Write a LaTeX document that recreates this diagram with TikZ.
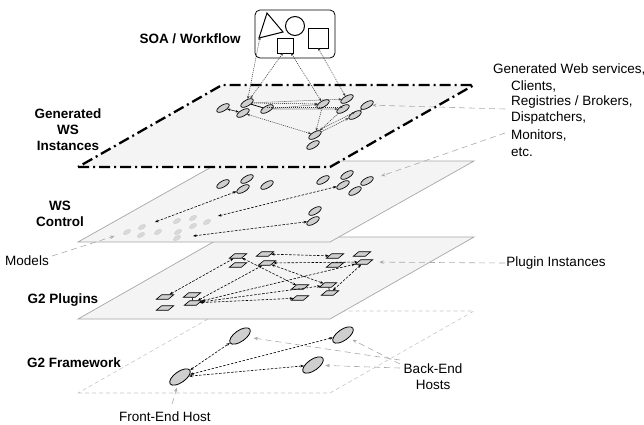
\documentclass[tikz,border=0pt]{standalone}
\usepackage{fontspec}
\setmainfont{Liberation Sans}
\usetikzlibrary{arrows.meta,shapes.geometric}
\definecolor{planefill}{HTML}{F4F4F4}
\definecolor{nodefill}{HTML}{CFCFCF}
\definecolor{annotc}{HTML}{ABABAB}
\begin{document}
\begin{tikzpicture}[x=1pt,y=-1pt,
  lbl/.style={font=\fontsize{13.5}{16}\selectfont, inner sep=0},
  blbl/.style={font=\fontsize{13.5}{16}\selectfont\bfseries, inner sep=0, align=center},
  ws/.style={ellipse, draw, fill=nodefill, line width=0.7pt, minimum width=14pt, minimum height=6pt, inner sep=0, rotate=30},
  model/.style={ellipse, fill=gray!30, draw=gray!40, line width=0.4pt, minimum width=8pt, minimum height=4pt, inner sep=0, rotate=30},
  host/.style={ellipse, draw, fill=nodefill, line width=0.8pt, minimum width=24pt, minimum height=11pt, inner sep=0, rotate=35},
  plug/.style={rectangle, draw, fill=nodefill, line width=0.6pt, minimum width=12pt, minimum height=4.5pt, inner sep=0, xslant=1.2},
  dotc/.style={draw=black!80, line width=0.55pt, dash pattern=on 1pt off 1pt, {Stealth[length=3pt,width=2.4pt]}-{Stealth[length=3pt,width=2.4pt]}},
  dotone/.style={draw=black!80, line width=0.55pt, dash pattern=on 1pt off 1pt, -{Stealth[length=3pt,width=2.4pt]}},
  dashc/.style={draw=black, line width=0.6pt, dash pattern=on 2.5pt off 1.5pt, {Stealth[length=3.5pt,width=2.6pt]}-{Stealth[length=3.5pt,width=2.6pt]}},
  annot/.style={draw=annotc, line width=0.6pt, dash pattern=on 6pt off 4pt, -{Stealth[length=4.5pt,width=3.5pt]}},
  solidlink/.style={draw, line width=0.8pt}
]
\useasboundingbox (0,0) rectangle (644,424);

% ---------- planes ----------
\draw[draw=gray!45, line width=0.6pt, dash pattern=on 4pt off 3pt] (78,393) -- (330,393) -- (474,311) -- (222,311) -- cycle;
\draw[draw=gray!70, fill=planefill, line width=0.7pt] (78,319) -- (330,319) -- (474,237) -- (222,237) -- cycle;
\draw[draw=gray!70, fill=planefill, line width=0.7pt] (78,242) -- (330,242) -- (474,161) -- (222,161) -- cycle;
\draw[fill=planefill, line width=2.3pt, dash pattern=on 11pt off 4pt on 2pt off 4pt] (78,167) -- (330,167) -- (474,85) -- (222,85) -- cycle;

% ---------- SOA box ----------
\node[draw, rounded corners=5pt, line width=0.8pt, minimum width=80pt, minimum height=48pt, inner sep=0] (soa) at (295,34) {};
\draw[line width=1pt] (259,38) -- (267,13) -- (283,32) -- cycle;
\coordinate (tri) at (260,37);
\node[circle, draw, line width=1pt, minimum size=19pt, inner sep=0] (circ) at (295,26) {};
\node[draw, line width=1pt, minimum width=16pt, minimum height=15pt, inner sep=0] (sq1) at (285,45.5) {};
\node[draw, line width=1pt, minimum size=20pt, inner sep=0] (sq2) at (318,38) {};
\coordinate (sq1a) at (283,53);
\coordinate (sq1b) at (291,53);
\coordinate (sq2a) at (318,48);

% ---------- generated WS instances ----------
\node[ws] (e1) at (223,108) {};
\node[ws] (e2) at (247,103) {};
\node[ws] (e3) at (243,113) {};
\node[ws] (e4) at (267,109) {};
\node[ws] (e5) at (323,104) {};
\node[ws] (e6) at (347,99) {};
\node[ws] (e7) at (343,109) {};
\node[ws] (e8) at (355,115) {};
\node[ws] (e9) at (367,105) {};
\node[ws] (e10) at (315,135) {};
\node[ws] (e11) at (313,145) {};

\draw[dotc] (tri) -- (e2);
\draw[dotc] (sq1a) -- (e2);
\draw[dotc] (sq1b) -- (e5);
\draw[dotc] (sq2a) -- (e6);

\draw[line width=0.5pt, {Stealth[length=3pt,width=2.4pt]}-{Stealth[length=3pt,width=2.4pt]}] (e1) -- (e3);
\draw[solidlink] (e2) -- (e4);
\draw[solidlink] (e8) -- (e9);
\draw[dotone] (e2) -- (e6);
\draw[dotone] (e2) -- (e5);
\draw[dotone] (e4) -- (e5);
\draw[dotone] (e4) -- (e7);
\draw[dotone] ([yshift=2pt]e4.center) -- ([yshift=2pt]e7.center);
\draw[dotc] (e3) -- (e10);
\draw[dotone] (e5) -- (e10);
\draw[dotone] (e7) -- (e10);
\draw[dotone] (e10) -- (e8);
\draw[dotone] ([yshift=3pt]e10.center) -- ([yshift=3pt]e8.center);

% ---------- WS control ----------
\node[ws] (c1) at (223,184) {};
\node[ws] (c2) at (247,179) {};
\node[ws] (c3) at (243,189) {};
\node[ws] (c4) at (267,185) {};
\node[ws] (c5) at (323,180) {};
\node[ws] (c6) at (347,175) {};
\node[ws] (c7) at (343,185) {};
\node[ws] (c8) at (355,191) {};
\node[ws] (c9) at (367,181) {};
\node[ws] (c10) at (315,211) {};
\node[ws] (c11) at (313,221) {};

\node[model] (m1) at (127,232) {};
\node[model] (m2) at (142,227) {};
\node[model] (m3) at (141,235) {};
\node[model] (m4) at (158,232) {};
\node[model] (m5) at (177,221) {};
\node[model] (m6) at (178,232) {};
\node[model] (m7) at (177,238) {};
\node[model] (m8) at (193,218) {};
\node[model] (m9) at (193,226) {};
\node[model] (m10) at (207,222) {};

\coordinate (k1) at (155,222);
\coordinate (k2) at (218,216);
\coordinate (k3) at (193,236);
\draw[dashc] (k1) -- (c3);
\draw[dashc] (k2) -- (c7);
\draw[dashc] (k3) -- (c11);

% ---------- G2 plugins ----------
\node[plug] (p1) at (238,256) {};
\node[plug] (p2) at (265,254) {};
\node[plug] (p3) at (238,265) {};
\node[plug] (p4) at (267,263) {};
\node[plug] (p5) at (335,256) {};
\node[plug] (p6) at (362,254) {};
\node[plug] (p7) at (335,265) {};
\node[plug] (p8) at (364,262) {};
\node[plug] (p9) at (300,287) {};
\node[plug] (p10) at (328,285) {};
\node[plug] (p11) at (300,298) {};
\node[plug] (p12) at (330,293) {};
\node[plug] (p13) at (165,297) {};
\node[plug] (p14) at (192,295) {};
\node[plug] (p15) at (165,308) {};
\node[plug] (p16) at (193,303) {};

\draw[line width=0.6pt] (p14) -- (p16);
\draw[line width=0.6pt] (p10) -- (p12);
\draw[dashc] (p13) -- (p1);
\draw[dashc] (p16) -- (p4);
\draw[dashc] (p16) -- (p8);
\draw[dashc] (p16) -- (p10);
\draw[dashc] (p16) -- (p11);
\draw[dashc] (p2) -- (p5);
\draw[dashc] (p4) -- (p8);
\draw[dashc] (p1) -- (p9);
\draw[dashc] (p4) -- (p10);
\draw[dashc] (p8) -- (p12);

% ---------- G2 framework ----------
\node[host] (f1) at (180,377) {};
\node[host] (f2) at (240,336) {};
\node[host] (f3) at (343,335) {};
\node[host] (f4) at (313,365) {};
\draw[dashc] (f1) -- (f2);
\draw[dashc] (f1) -- (f3);
\draw[dashc] (f1) -- (f4);

% ---------- labels ----------
\node[blbl] (tsoa) at (190,39) {SOA / Workflow};
\node[blbl] (tgen) at (68,130) {Generated\\WS\\Instances};
\node[blbl] (tctl) at (60,214) {WS\\Control};
\node[lbl] (tmod) at (27,261) {Models};
\node[blbl] (tplg) at (63,300) {G2 Plugins};
\node[blbl] (tfw) at (74,363) {G2 Framework};
\node[lbl] (tfe) at (165,417) {Front-End Host};
\node[lbl, align=center] (tbe) at (433,377) {Back-End\\Hosts};
\node[lbl] (tpi) at (556,263) {Plugin Instances};
\node[lbl, anchor=west] (g1) at (493,69) {Generated Web services,};
\node[lbl, anchor=west] (g2) at (511,86) {Clients,};
\node[lbl, anchor=west] (g3) at (511,102) {Registries / Brokers,};
\node[lbl, anchor=west] (g4) at (511,118) {Dispatchers,};
\node[lbl, anchor=west] (g5) at (511,135) {Monitors,};
\node[lbl, anchor=west] (g6) at (511,152) {etc.};

% ---------- annotation arrows ----------
\coordinate (a1) at (505,109);
\coordinate (a2) at (505,133);
\coordinate (a3) at (52,256);
\coordinate (a4) at (505,263);
\coordinate (b1) at (400,360);
\coordinate (b2) at (400,364);
\coordinate (b3) at (400,368);
\coordinate (fe) at (172,404);
\draw[annot] (a1) -- (e9);
\draw[annot, shorten >=8pt] (a2) -- (c9);
\draw[annot, shorten >=9pt] (a3) -- (m1);
\draw[annot, shorten >=9pt] (a4) -- (p8);
\draw[annot, shorten >=6pt] (b1) -- (f2);
\draw[annot, shorten >=4pt] (b2) -- (f3);
\draw[annot, shorten >=4pt] (b3) -- (f4);
\draw[annot, shorten >=3pt] (fe) -- (f1);
\end{tikzpicture}
\end{document}
